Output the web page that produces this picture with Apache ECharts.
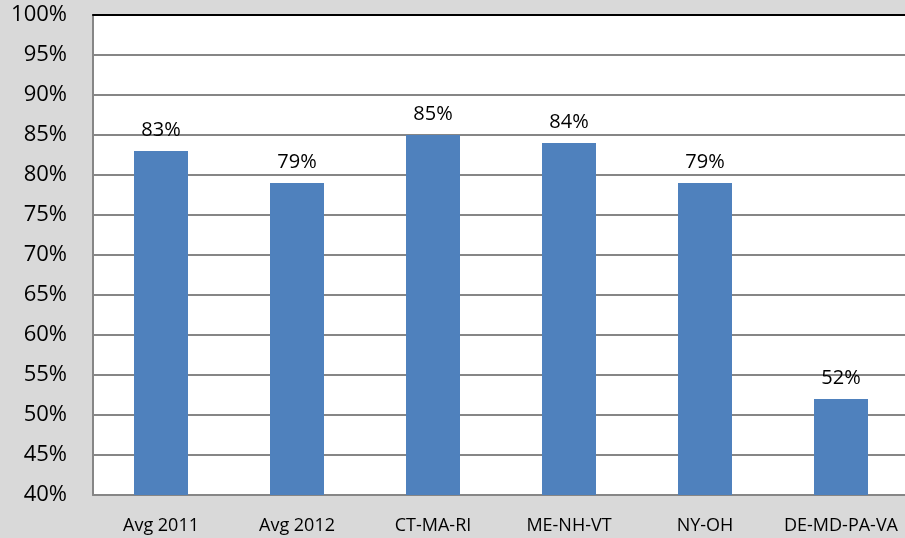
<!DOCTYPE html>
<html>
<head>
<meta charset="utf-8">
<script src="https://cdn.jsdelivr.net/npm/echarts@6/dist/echarts.min.js"></script>
<style>
  html, body { margin: 0; padding: 0; background: #d9d9d9; overflow: hidden; }
  #chart { width: 909px; height: 538px; }
</style>
</head>
<body>
<div id="chart"></div>
<script>
var categories = ["Avg 2011", "Avg 2012", "CT-MA-RI", "ME-NH-VT", "NY-OH", "DE-MD-PA-VA"];
var values = [83, 79, 85, 84, 79, 52];

var myChart = echarts.init(document.getElementById("chart"));
var font = "Open Sans, Liberation Sans, sans-serif";
var option = {
  backgroundColor: "#d9d9d9",
  animation: false,
  grid: {
    left: 93,
    right: 0,
    top: 15,
    bottom: 43,
    show: true,
    backgroundColor: "#fff",
    borderWidth: 0
  },
  xAxis: [
    {
      type: "category",
      data: categories,
      axisLine: { lineStyle: { color: "#868686", width: 2 } },
      axisTick: { show: false },
      axisLabel: { interval: 0, color: "#000", fontFamily: font, fontSize: 18, margin: 22 }
    },
    {
      type: "category",
      position: "top",
      data: categories,
      axisLine: { lineStyle: { color: "#000", width: 2 } },
      axisTick: { show: false },
      axisLabel: { show: false }
    }
  ],
  yAxis: {
    type: "value",
    min: 40,
    max: 100,
    interval: 5,
    axisLine: { show: true, lineStyle: { color: "#868686", width: 2 } },
    axisTick: { show: false },
    axisLabel: {
      color: "#000",
      fontFamily: font,
      fontSize: 22,
      margin: 26,
      formatter: "{value}%"
    },
    splitLine: { lineStyle: { color: "#868686", width: 2 } }
  },
  series: [
    {
      type: "bar",
      data: values,
      barWidth: 54,
      itemStyle: { color: "#4f81bd" },
      label: {
        show: true,
        position: "top",
        distance: 11,
        color: "#000",
        fontFamily: font,
        fontSize: 20,
        formatter: "{c}%"
      }
    }
  ]
};
myChart.setOption(option);
</script>
</body>
</html>
